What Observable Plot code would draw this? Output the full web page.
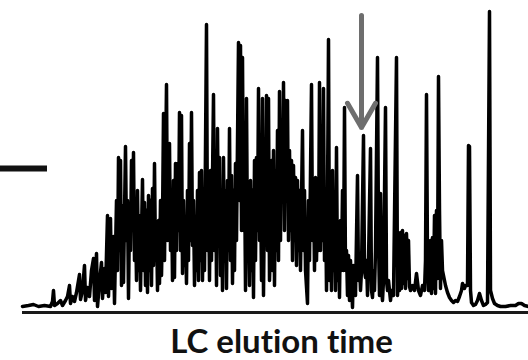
<!DOCTYPE html>
<html>
<head>
<meta charset="utf-8">
<script src="https://cdn.jsdelivr.net/npm/d3@7"></script>
<script src="https://cdn.jsdelivr.net/npm/@observablehq/plot@0.6"></script>
<style>
  html, body { margin: 0; padding: 0; background: #fff; }
  #chart svg { display: block; }
  #chart text { font-variant-ligatures: none; font-feature-settings: "liga" 0, "clig" 0; }
</style>
</head>
<body>
<div id="chart"></div>
<script>
// Chromatogram trace: [elution time (a.u.), intensity (a.u.)]
const trace = [
  [22,2],[28,3],[33,4],[38,2],[44,3],[50,2],[52,7],[53,18],[54,3],[57,5],[60,8],[62,3],[65,8],[67,12],[69,23],[70,5],
  [72,12],[74,7],[76,16],[78,28],[79,34],[80,9],[82,18],[84,43],[85,8],[87,21],[89,12],[91,38],[93,50],[94,8],[96,55],
  [97,2],[99,26],[101,46],[102,10],[104,40],[105,16],[107,93],[108,12],[110,90],[111,20],[113,72],[114,5],[116,108],
  [117,38],[118,151],[119,58],[120,148],[121,23],[122,103],[123,26],[125,162],[126,68],[127,108],[128,10],[129,93],
  [130,58],[131,148],[132,78],[133,156],[134,48],[135,95],[136,28],[137,118],[138,38],[139,93],[140,18],[142,129],
  [143,38],[144,106],[145,23],[146,98],[147,16],[148,113],[149,38],[150,108],[151,23],[152,120],[153,43],[154,145],
  [155,48],[156,86],[157,18],[158,88],[159,25],[160,108],[161,33],[162,86],[163,195],[164,48],[166,224],[167,68],
  [168,108],[169,165],[170,58],[171,118],[172,28],[173,128],[174,31],[175,145],[176,58],[177,145],[178,78],[179,196],
  [180,58],[181,193],[182,35],[183,108],[184,43],[185,78],[186,25],[187,118],[188,48],[189,165],[190,68],[191,196],
  [192,63],[193,108],[194,23],[195,91],[196,38],[197,118],[198,28],[199,136],[200,48],[201,138],[202,28],[203,118],
  [204,38],[206,284],[207,58],[208,128],[209,28],[210,138],[211,48],[213,214],[214,58],[215,158],[216,23],[217,180],
  [218,68],[219,151],[220,33],[221,118],[222,18],[223,151],[224,48],[225,118],[226,20],[227,128],[228,58],[229,180],
  [230,48],[231,133],[232,25],[233,118],[234,38],[235,145],[236,68],[238,266],[239,108],[240,263],[241,78],[242,251],
  [243,78],[244,148],[245,18],[246,210],[247,58],[248,88],[249,23],[250,128],[251,38],[252,118],[253,11],[254,148],
  [255,48],[256,151],[257,78],[258,220],[259,68],[260,128],[261,28],[262,210],[263,13],[264,118],[265,68],[266,213],
  [267,58],[268,210],[269,28],[270,65],[271,148],[272,38],[273,158],[274,23],[275,138],[276,58],[277,178],[278,48],
  [279,217],[280,68],[281,188],[282,108],[283,226],[284,78],[285,208],[286,108],[287,208],[288,68],[289,158],[290,78],
  [291,148],[292,48],[293,143],[294,68],[295,131],[296,43],[297,128],[298,58],[299,118],[300,38],[302,178],[303,58],
  [304,118],[305,38],[307,5],[308,108],[309,48],[311,224],[312,68],[313,128],[314,38],[315,131],[316,48],[317,108],
  [318,58],[319,226],[320,58],[321,148],[322,68],[323,220],[324,48],[325,118],[326,18],[327,108],[328,269],[329,28],
  [330,108],[331,18],[332,138],[333,38],[334,88],[335,18],[336,161],[337,28],[338,78],[339,11],[340,88],[341,38],
  [342,118],[343,38],[344,201],[345,38],[346,58],[347,13],[348,53],[349,8],[350,48],[352,1],[353,43],[355,13],
  [357,133],[358,28],[359,48],[360,18],[361,38],[363,173],[364,38],[365,31],[366,48],[367,13],[368,48],[370,160],
  [371,18],[372,11],[373,38],[374,18],[375,58],[377,251],[378,68],[379,13],[380,115],[381,18],[382,8],[383,28],
  [385,201],[386,28],[387,18],[388,28],[390,8],[391,18],[393,13],[396,251],[397,13],[398,38],[399,18],[400,76],
  [401,20],[402,78],[403,25],[404,73],[405,20],[406,75],[407,30],[408,68],[409,22],[410,18],[412,23],[414,18],
  [416,35],[418,18],[420,13],[422,23],[424,18],[425,48],[426,214],[427,48],[428,18],[429,28],[430,68],[431,15],
  [432,71],[433,20],[434,93],[435,15],[436,98],[437,30],[438,232],[439,98],[440,20],[441,68],[442,38],[445,23],
  [447,16],[449,11],[451,8],[453,6],[455,8],[457,7],[459,12],[461,18],[462,25],[464,20],[465,23],[467,23],[468,163],
  [469,162],[470,18],[471,6],[473,3],[475,4],[477,8],[479,15],[481,8],[483,3],[485,4],[487,6],[489,297],[490,18],
  [492,10],[494,5],[497,3],[500,2],[505,2],[510,3],[515,3],[518,5],[521,5],[524,3],[528,2]
];

// Annotations
const axisLabel = "LC elution time";
const axisLine = [{y: -4, x1: 22, x2: 528}];
const leftStub = [{y: 140, x1: 0, x2: 47}];
const arrowMark = [{x: 361, yFrom: 293, yTo: 181}];
const labelPos = [{x: 281, y: -44, text: axisLabel}];

const data = trace.map(([t, v]) => ({t, v}));

const chart = Plot.plot({
  width: 528,
  height: 360,
  margin: 0,
  x: {domain: [0, 528], axis: null},
  y: {domain: [-52, 308], axis: null},
  marks: [
    Plot.ruleY(axisLine, {y: "y", x1: "x1", x2: "x2", stroke: "#1a1a1a", strokeWidth: 3}),
    Plot.ruleY(leftStub, {y: "y", x1: "x1", x2: "x2", stroke: "#111", strokeWidth: 6}),
    Plot.line(data, {x: "t", y: "v", stroke: "#000", strokeWidth: 3.5}),
    Plot.arrow(arrowMark, {x: "x", y1: "yFrom", y2: "yTo", stroke: "#6e6e6e", strokeWidth: 5, headLength: 8.4, headAngle: 60}),
    Plot.text(labelPos, {x: "x", y: "y", text: "text", lineAnchor: "bottom", fontSize: 33, fontWeight: "bold", fontFamily: "Lato", fill: "#111"})
  ]
});
document.getElementById("chart").appendChild(chart);
</script>
</body>
</html>
